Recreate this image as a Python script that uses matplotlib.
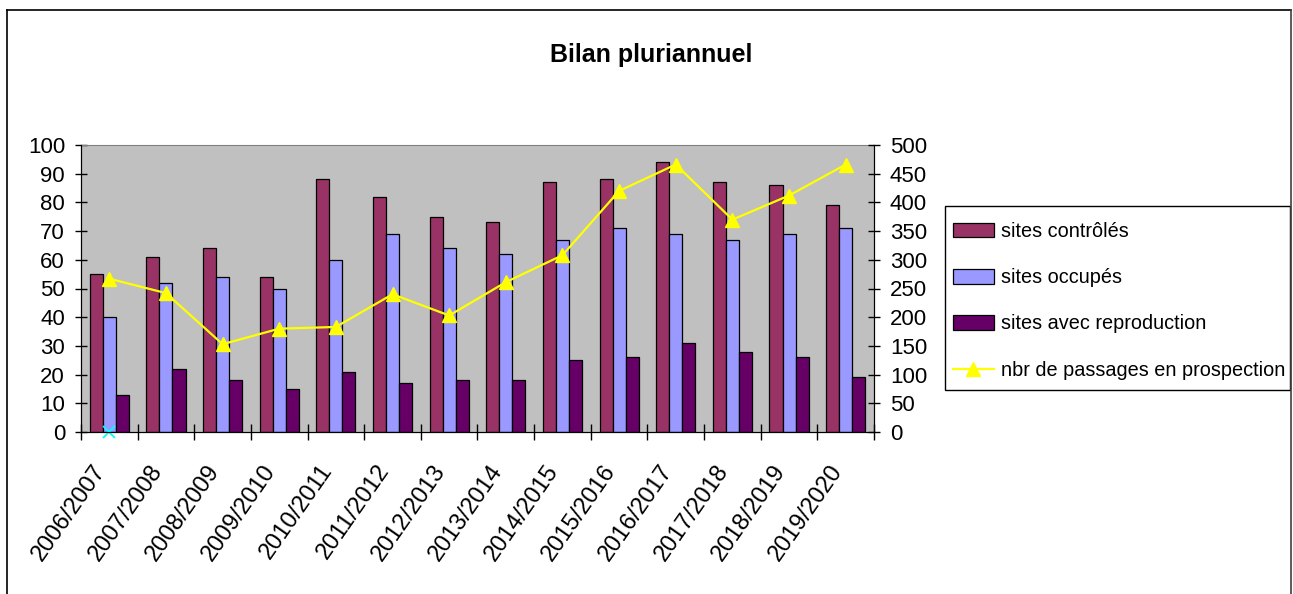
import matplotlib
matplotlib.use("Agg")
import matplotlib.pyplot as plt
import matplotlib.transforms as mtransforms
from matplotlib.lines import Line2D
from matplotlib.patches import Rectangle
import numpy as np

# data
saisons = ['2006/2007', '2007/2008', '2008/2009', '2009/2010', '2010/2011',
           '2011/2012', '2012/2013', '2013/2014', '2014/2015', '2015/2016',
           '2016/2017', '2017/2018', '2018/2019', '2019/2020']
sites_controles = [55, 61, 64, 54, 88, 82, 75, 73, 87, 88, 94, 87, 86, 79]
sites_occupes = [40, 52, 54, 50, 60, 69, 64, 62, 67, 71, 69, 67, 69, 71]
sites_repro = [13, 22, 18, 15, 21, 17, 18, 18, 25, 26, 31, 28, 26, 19]
passages = [267, 242, 153, 180, 183, 240, 203, 261, 308, 420, 466, 370, 412, 466]
marque_seule = [0]  # small cyan x on the first season

plt.rcParams['font.family'] = ['Liberation Sans', 'DejaVu Sans']

W, H = 1293, 594
fig = plt.figure(figsize=(W / 100, H / 100), dpi=100)
ax = fig.add_axes([81 / W, 1 - 432 / H, (874 - 81) / W, (432 - 145) / H])
ax.set_facecolor('#C0C0C0')

x = np.arange(len(saisons))
w = 0.23
ax.bar(x - w, sites_controles, w, color='#993366', edgecolor='black', linewidth=0.9,
       label='sites contrôlés', zorder=2)
ax.bar(x, sites_occupes, w, color='#9999FF', edgecolor='black', linewidth=0.9,
       label='sites occupés', zorder=2)
ax.bar(x + w, sites_repro, w, color='#660066', edgecolor='black', linewidth=0.9,
       label='sites avec reproduction', zorder=2)
ax.plot(x[:len(marque_seule)], marque_seule, 'x', color='#00FFFF', markersize=8,
        markeredgewidth=1.3, clip_on=False, zorder=5)

ax.set_xlim(-0.5, len(saisons) - 0.5)
ax.set_ylim(0, 100)
ax.set_yticks(np.arange(0, 101, 10))
ax.tick_params(axis='y', direction='inout', length=9, width=1, labelsize=16, pad=7)

# category boundaries as ticks, labels at centers
ax.set_xticks(np.arange(-0.5, len(saisons), 1.0), minor=True)
ax.set_xticks(x)
ax.set_xticklabels(saisons, rotation=55, ha='right', va='center', rotation_mode='anchor')
ax.tick_params(axis='x', which='minor', direction='inout', length=12, width=1)
ax.tick_params(axis='x', which='major', length=0, labelsize=17, pad=25)
shift = mtransforms.ScaledTranslation(-8 / 100, 0, fig.dpi_scale_trans)
for lab in ax.get_xticklabels():
    lab.set_transform(lab.get_transform() + shift)

for side in ['left', 'bottom', 'right']:
    ax.spines[side].set_color('black')
ax.spines['top'].set_color('#808080')

ax2 = ax.twinx()
ax2.plot(x, passages, color='#FFFF00', linewidth=1.6, marker='^', markersize=9.5,
         markerfacecolor='#FFFF00', markeredgecolor='#FFFF00',
         label='nbr de passages en prospection', zorder=3)
ax2.set_ylim(0, 500)
ax2.set_yticks(np.arange(0, 501, 50))
ax2.tick_params(axis='y', direction='inout', length=9, width=1, labelsize=16, pad=7)
ax2.spines['top'].set_visible(False)
ax2.spines['right'].set_color('black')

fig.text(651 / W, 1 - 55 / H, 'Bilan pluriannuel', ha='center', va='center',
         fontsize=18, fontweight='bold')

# legend: entries without frame, frame drawn as its own box
h1, l1 = ax.get_legend_handles_labels()
h2, l2 = ax2.get_legend_handles_labels()
leg = fig.legend(h1 + h2, l1 + l2, loc='upper left',
                 bbox_to_anchor=(953 / W, 1 - 222 / H), bbox_transform=fig.transFigure,
                 borderaxespad=0, borderpad=0, fontsize=14.3, frameon=False,
                 handlelength=2.05, handleheight=0.75, handletextpad=0.35,
                 labelspacing=1.37, numpoints=1)
fig.add_artist(Rectangle((945 / W, 1 - 390 / H), (1290 - 945) / W, (390 - 206) / H,
                         transform=fig.transFigure, facecolor='none',
                         edgecolor='black', linewidth=1.0))

# outer chart frame
fig.add_artist(Line2D([7 / W, 7 / W], [0, 1 - 10 / H], color='black', linewidth=1.2))
fig.add_artist(Line2D([7 / W, 1291 / W], [1 - 10 / H, 1 - 10 / H], color='black', linewidth=1.2))
fig.add_artist(Line2D([1291 / W, 1291 / W], [0, 1 - 10 / H], color='#404040', linewidth=1.2))

fig.savefig('out.png', dpi=100)
